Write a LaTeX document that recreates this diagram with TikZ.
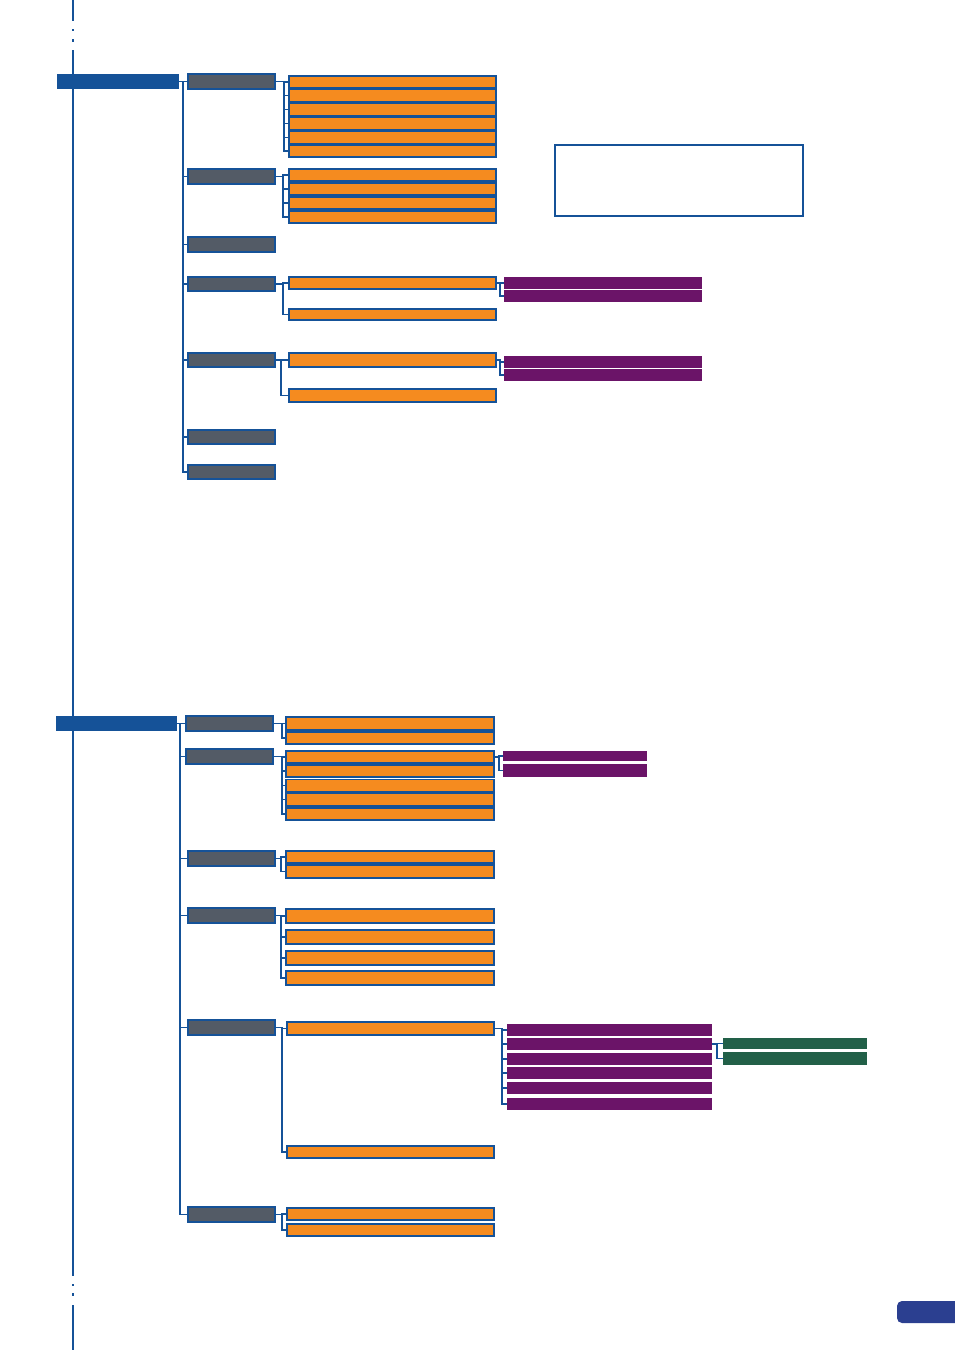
\documentclass[tikz,border=0pt]{standalone}
\usetikzlibrary{calc}
\definecolor{cblue}{RGB}{21,82,152}
\definecolor{cgray}{RGB}{83,91,102}
\definecolor{corange}{RGB}{245,139,31}
\definecolor{cpurple}{RGB}{107,20,104}
\definecolor{cgreen}{RGB}{34,96,72}
\definecolor{ctab}{RGB}{43,63,144}
\tikzset{
  every node/.style={inner sep=0pt, outer sep=0pt, rectangle},
  rootbox/.style={fill=cblue, draw=none},
  graybox/.style={fill=cgray, draw=cblue, line width=1.4pt},
  orangebox/.style={fill=corange, draw=cblue, line width=1.7pt},
  purplebox/.style={fill=cpurple, draw=none},
  greenbox/.style={fill=cgreen, draw=none},
  notebox/.style={fill=white, draw=cblue, line width=2pt},
  conn/.style={draw=cblue, line width=1.1pt},
  pageline/.style={draw=cblue, line width=2pt},
}
\newcommand\bx[6]{\node[#1, minimum width={#5pt-#3pt}, minimum height={#6pt-#4pt}] (#2) at ({(#3+#5)/2},{(#4+#6)/2}) {};}
\newcommand\kids[3]{\coordinate (bus#1) at (#2,0);
  \foreach \k in {#3} {\draw[conn] (#1.east) -- (#1.east -| bus#1) |- (\k.west);}}
\begin{document}
\begin{tikzpicture}[x=1pt,y=-1pt]
\useasboundingbox (0,0) rectangle (954,1350);
% page line
\draw[pageline] (73,0) -- (73,21);
\draw[pageline] (73,29) -- (73,31);
\draw[pageline] (73,39) -- (73,42);
\draw[pageline] (73,50) -- (73,1276);
\draw[pageline] (73,1284) -- (73,1286);
\draw[pageline] (73,1293) -- (73,1296);
\draw[pageline] (73,1305) -- (73,1350);
% tab
\fill[ctab, rounded corners=5pt] (960,1301) -- (897,1301) -- (897,1323) -- (960,1323);
% ===== top section =====
\bx{rootbox}{r1}{57}{74}{179}{89}
\bx{graybox}{g11}{188}{74}{275}{89}
\bx{graybox}{g12}{188}{169}{275}{184}
\bx{graybox}{g13}{188}{237}{275}{252}
\bx{graybox}{g14}{188}{277}{275}{291}
\bx{graybox}{g15}{188}{353}{275}{367}
\bx{graybox}{g16}{188}{430}{275}{444}
\bx{graybox}{g17}{188}{465}{275}{479}
\coordinate (t1) at (183,81.5);
\draw[conn] (r1.east) -- (t1);
\foreach \g in {g11,g12,g13,g14,g15,g16,g17} {\draw[conn] (t1) |- (\g.west);}
% g11 children
\bx{orangebox}{o111}{289}{76}{496}{88}
\bx{orangebox}{o112}{289}{89.5}{496}{102}
\bx{orangebox}{o113}{289}{103.5}{496}{116}
\bx{orangebox}{o114}{289}{117.5}{496}{130}
\bx{orangebox}{o115}{289}{131.5}{496}{144}
\bx{orangebox}{o116}{289}{145}{496}{157}
\kids{g11}{284}{o111,o112,o113,o114,o115,o116}
% g12 children
\bx{orangebox}{o121}{289}{169}{496}{181}
\bx{orangebox}{o122}{289}{183}{496}{195}
\bx{orangebox}{o123}{289}{197}{496}{209}
\bx{orangebox}{o124}{289}{211}{496}{223}
\kids{g12}{283}{o121,o122,o123,o124}
% g14 children
\bx{orangebox}{o141}{289}{277}{496}{289}
\bx{orangebox}{o142}{289}{309}{496}{320}
\kids{g14}{283}{o141,o142}
% g15 children
\bx{orangebox}{o151}{289}{353}{496}{367}
\bx{orangebox}{o152}{289}{389}{496}{402}
\kids{g15}{281}{o151,o152}
% purple
\bx{purplebox}{p1411}{504}{277}{702}{289}
\bx{purplebox}{p1412}{504}{290}{702}{302}
\kids{o141}{500}{p1411,p1412}
\bx{purplebox}{p1511}{504}{356}{702}{368}
\bx{purplebox}{p1512}{504}{369}{702}{381}
\kids{o151}{500}{p1511,p1512}
% note box
\bx{notebox}{note}{555}{145}{803}{216}
% ===== bottom section =====
\bx{rootbox}{r2}{56}{716}{177}{731}
\bx{graybox}{g21}{186}{716}{273}{731}
\bx{graybox}{g22}{186}{749}{273}{764}
\bx{graybox}{g23}{188}{851}{275}{866}
\bx{graybox}{g24}{188}{908}{275}{923}
\bx{graybox}{g25}{188}{1020}{275}{1035}
\bx{graybox}{g26}{188}{1207}{275}{1222}
\coordinate (t2) at (180,723.5);
\draw[conn] (r2.east) -- (t2);
\foreach \g in {g21,g22,g23,g24,g25,g26} {\draw[conn] (t2) |- (\g.west);}
% g21
\bx{orangebox}{o211}{286}{717}{494}{730}
\bx{orangebox}{o212}{286}{732}{494}{744}
\kids{g21}{282}{o211,o212}
% g22
\bx{orangebox}{o221}{286}{751}{494}{763}
\bx{orangebox}{o222}{286}{765}{494}{777}
\bx{orangebox}{o223}{286}{779.5}{494}{792}
\bx{orangebox}{o224}{286}{793.5}{494}{806}
\bx{orangebox}{o225}{286}{808}{494}{820}
\kids{g22}{282}{o221,o222,o223,o224,o225}
\bx{purplebox}{p2211}{503}{751}{647}{761}
\bx{purplebox}{p2212}{503}{764}{647}{777}
\kids{o221}{499}{p2211,p2212}
% g23
\bx{orangebox}{o231}{286}{851}{494}{863}
\bx{orangebox}{o232}{286}{865}{494}{878}
\kids{g23}{281}{o231,o232}
% g24
\bx{orangebox}{o241}{286}{909}{494}{923}
\bx{orangebox}{o242}{286}{930}{494}{944}
\bx{orangebox}{o243}{286}{951}{494}{965}
\bx{orangebox}{o244}{286}{971}{494}{985}
\kids{g24}{281}{o241,o242,o243,o244}
% g25
\bx{orangebox}{o251}{287}{1022}{494}{1035}
\bx{orangebox}{o252}{287}{1146}{494}{1158}
\kids{g25}{282}{o251,o252}
\bx{purplebox}{p2511}{507}{1024}{712}{1036}
\bx{purplebox}{p2512}{507}{1038}{712}{1050}
\bx{purplebox}{p2513}{507}{1053}{712}{1065}
\bx{purplebox}{p2514}{507}{1067}{712}{1079}
\bx{purplebox}{p2515}{507}{1082}{712}{1094}
\bx{purplebox}{p2516}{507}{1098}{712}{1110}
\kids{o251}{502}{p2511,p2512,p2513,p2514,p2515,p2516}
\bx{greenbox}{q1}{723}{1038}{867}{1049}
\bx{greenbox}{q2}{723}{1052}{867}{1065}
\kids{p2512}{717}{q1,q2}
% g26
\bx{orangebox}{o261}{287}{1208}{494}{1220}
\bx{orangebox}{o262}{287}{1224}{494}{1236}
\kids{g26}{282}{o261,o262}
\end{tikzpicture}
\end{document}
